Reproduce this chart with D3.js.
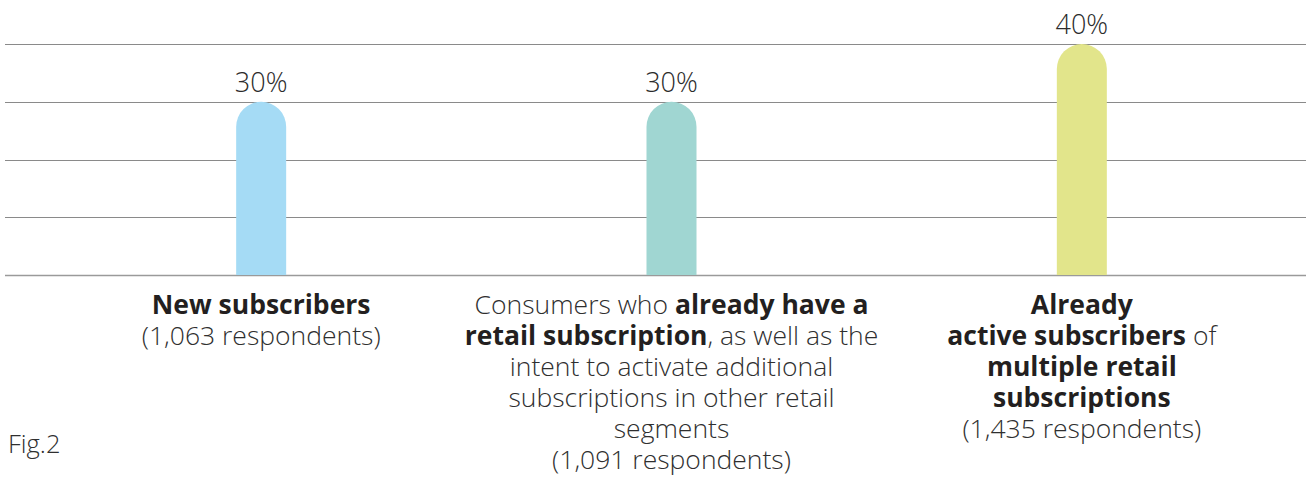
<!DOCTYPE html>
<html>
<head>
<meta charset="utf-8">
<script src="https://cdn.jsdelivr.net/npm/d3@7"></script>
<style>
  html, body { margin: 0; padding: 0; background: #ffffff; }
  svg { display: block; font-family: "Open Sans", "Noto Sans", sans-serif; }
</style>
</head>
<body>
<svg id="chart" width="1306" height="479"></svg>
<script>
// Share of respondents per subscriber group
const categories = ["new", "intent", "multiple"];
const values = [30, 30, 40];
const barColors = ["#a5dbf5", "#a0d6d2", "#e2e58b"];
const gridTicks = [0, 10, 20, 30, 40];

// Category captions: each line is a list of [text, bold] runs
const captions = [
  [
    [["New subscribers", true]],
    [["(1,063 respondents)", false]]
  ],
  [
    [["Consumers who ", false], ["already have a", true]],
    [["retail subscription", true], [", as well as the", false]],
    [["intent to activate additional", false]],
    [["subscriptions in other retail", false]],
    [["segments", false]],
    [["(1,091 respondents)", false]]
  ],
  [
    [["Already", true]],
    [["active subscribers", true], [" of", false]],
    [["multiple retail", true]],
    [["subscriptions", true]],
    [["(1,435 respondents)", false]]
  ]
];
const figLabel = "Fig.2";

const svg = d3.select("#chart");
const W = 1306;

const x = d3.scaleBand().domain(categories).range([56, 1287]);
const y = d3.scaleLinear().domain([0, 40]).range([275, 44]);
const barW = 50;
const lineH = 31;

// Horizontal gridlines
svg.append("g")
  .selectAll("line")
  .data(gridTicks)
  .join("line")
  .attr("x1", 5)
  .attr("x2", W)
  .attr("y1", d => Math.round(y(d)) + 0.5)
  .attr("y2", d => Math.round(y(d)) + 0.5)
  .attr("stroke", d => d === 0 ? "#9a9a9a" : "#8a8a8a")
  .attr("stroke-width", d => d === 0 ? 1.6 : 1.1);

// Bars with a rounded cap on top
function barPath(cx, v) {
  const r = barW / 2;
  const top = y(v);
  const bottom = y(0);
  const left = cx - r;
  return `M${left},${bottom} L${left},${top + r} A${r},${r} 0 0 1 ${left + barW},${top + r} L${left + barW},${bottom} Z`;
}

svg.append("g")
  .selectAll("path")
  .data(categories)
  .join("path")
  .attr("d", (c, i) => barPath(x(c) + x.bandwidth() / 2, values[i]))
  .attr("fill", (c, i) => barColors[i]);

// Value labels above each bar
svg.append("g")
  .selectAll("text")
  .data(categories)
  .join("text")
  .attr("x", c => x(c) + x.bandwidth() / 2)
  .attr("y", (c, i) => y(values[i]) - 10)
  .attr("text-anchor", "middle")
  .attr("font-size", 27)
  .attr("font-weight", 300)
  .attr("fill", "#2b2b2b")
  .text((c, i) => values[i] + "%");

// Category captions under the baseline, one multi-line text per category
const capG = svg.append("g");
categories.forEach((c, i) => {
  const cx = x(c) + x.bandwidth() / 2;
  const t = capG.append("text")
    .attr("x", cx)
    .attr("y", 314)
    .attr("text-anchor", "middle")
    .attr("font-size", 26.5)
    .attr("fill", "#231f20");
  captions[i].forEach((line, j) => {
    const row = t.append("tspan")
      .attr("x", cx)
      .attr("dy", j === 0 ? 0 : lineH);
    line.forEach(([txt, bold]) => {
      row.append("tspan")
        .attr("font-weight", bold ? 700 : 300)
        .attr("fill", bold ? "#231f20" : "#2f2f2f")
        .text(txt);
    });
  });
});

// Figure tag
svg.append("text")
  .attr("x", 8)
  .attr("y", 453)
  .attr("font-size", 25.5)
  .attr("font-weight", 300)
  .attr("fill", "#2f2f2f")
  .text(figLabel);
</script>
</body>
</html>
